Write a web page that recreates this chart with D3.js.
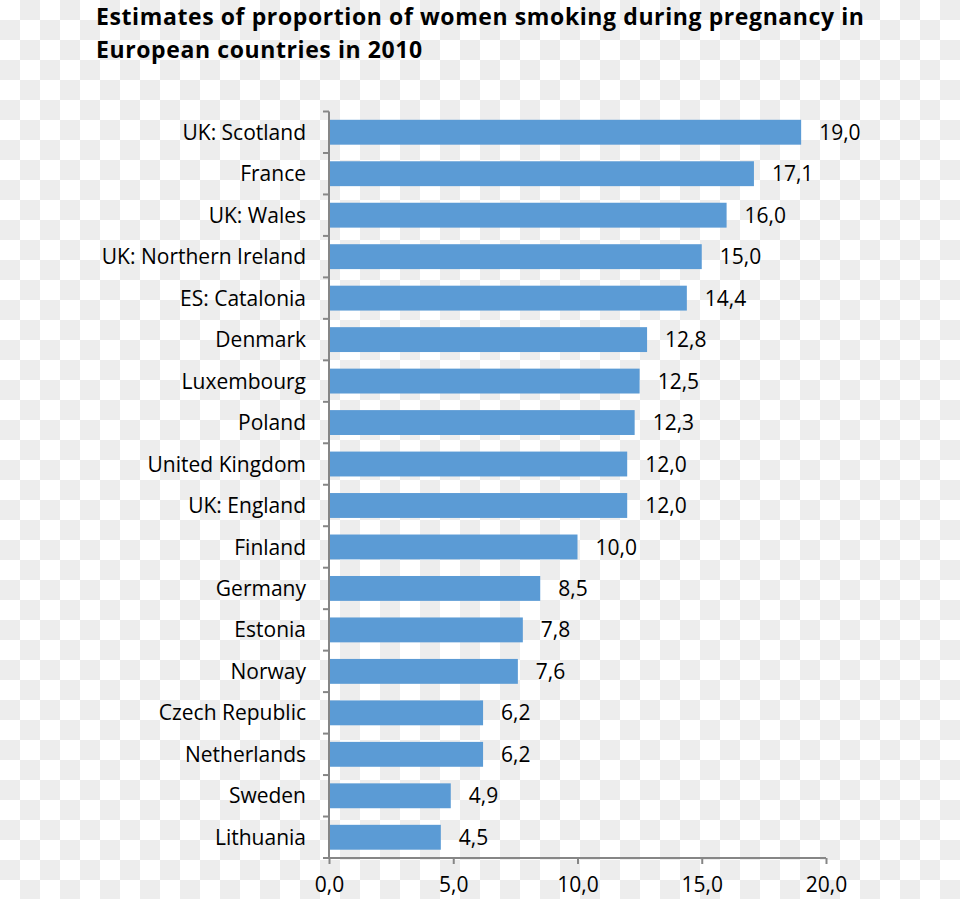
<!DOCTYPE html>
<html>
<head>
<meta charset="utf-8">
<script src="https://cdn.jsdelivr.net/npm/d3@7"></script>
<style>
  html, body { margin: 0; padding: 0; background: #fff; }
  svg { display: block; }
</style>
</head>
<body>
<svg id="chart" width="960" height="899"></svg>
<script>
const categories = ["UK: Scotland", "France", "UK: Wales", "UK: Northern Ireland", "ES: Catalonia",
  "Denmark", "Luxembourg", "Poland", "United Kingdom", "UK: England", "Finland", "Germany",
  "Estonia", "Norway", "Czech Republic", "Netherlands", "Sweden", "Lithuania"];
const values = [19.0, 17.1, 16.0, 15.0, 14.4, 12.8, 12.5, 12.3, 12.0, 12.0, 10.0, 8.5, 7.8, 7.6, 6.2, 6.2, 4.9, 4.5];
const xTicks = [0, 5, 10, 15, 20];
const titleLines = ["Estimates of proportion of women smoking during pregnancy in", "European countries in 2010"];

const fmt = v => d3.format(".1f")(v).replace(".", ",");
const svg = d3.select("#chart");
const font = "'Open Sans', sans-serif";
const fs = 21;

// transparent-background checkerboard
const defs = svg.append("defs");
const pat = defs.append("pattern").attr("id", "checker").attr("patternUnits", "userSpaceOnUse")
  .attr("width", 40).attr("height", 40);
pat.append("rect").attr("width", 40).attr("height", 40).attr("fill", "#ffffff");
pat.append("rect").attr("x", 20).attr("y", 0).attr("width", 20).attr("height", 20).attr("fill", "#ededed");
pat.append("rect").attr("x", 0).attr("y", 20).attr("width", 20).attr("height", 20).attr("fill", "#ededed");
svg.append("rect").attr("width", 960).attr("height", 899).attr("fill", "url(#checker)");

// title
const tfs = 23;
svg.append("g").selectAll("text").data(titleLines).join("text")
  .attr("x", 96).attr("y", (d, i) => 25 + i * 33)
  .attr("font-family", font).attr("font-weight", "bold").attr("font-size", tfs)
  .attr("letter-spacing", 0.6)
  .attr("fill", "#000").text(d => d);

const x = d3.scaleLinear().domain([0, 20]).range([329, 826]);
const y = d3.scaleBand().domain(categories).range([111.5, 858]).paddingInner(0.4).paddingOuter(0.2);

// bars
svg.append("g").selectAll("rect").data(values).join("rect")
  .attr("x", x(0) + 1).attr("y", (d, i) => y(categories[i]))
  .attr("width", d => x(d) - x(0) - 1).attr("height", y.bandwidth())
  .attr("fill", "#5b9bd5");

// value labels
svg.append("g").selectAll("text").data(values).join("text")
  .attr("x", d => x(d) + 18).attr("y", (d, i) => y(categories[i]) + y.bandwidth() / 2)
  .attr("dy", "0.36em").attr("font-family", font).attr("font-size", fs).attr("fill", "#000")
  .text(d => fmt(d));

// y axis
const yAxisG = svg.append("g");
yAxisG.append("line").attr("x1", 329).attr("x2", 329).attr("y1", 111.5).attr("y2", 858)
  .attr("stroke", "#868686").attr("stroke-width", 2);
const bounds = d3.range(categories.length + 1).map(i => 111.5 + i * (858 - 111.5) / categories.length);
yAxisG.selectAll("line.tk").data(bounds).join("line").attr("class", "tk")
  .attr("x1", 323).attr("x2", 329).attr("y1", d => d).attr("y2", d => d)
  .attr("stroke", "#868686").attr("stroke-width", 2);
yAxisG.selectAll("text").data(categories).join("text")
  .attr("x", 306).attr("y", d => y(d) + y.bandwidth() / 2).attr("dy", "0.36em")
  .attr("text-anchor", "end").attr("font-family", font).attr("font-size", fs).attr("fill", "#000")
  .text(d => d);

// x axis
const xAxis = d3.axisBottom(x).tickValues(xTicks).tickSize(6).tickPadding(13).tickFormat(fmt);
const xg = svg.append("g").attr("transform", "translate(0,858)").call(xAxis);
xg.select(".domain").attr("stroke", "#868686").attr("stroke-width", 2).attr("d", `M${x(0)},0H${x(20)}`);
xg.selectAll(".tick line").attr("stroke", "#868686").attr("stroke-width", 2);
xg.selectAll(".tick text").attr("font-family", font).attr("font-size", fs).attr("fill", "#000");
</script>
</body>
</html>
